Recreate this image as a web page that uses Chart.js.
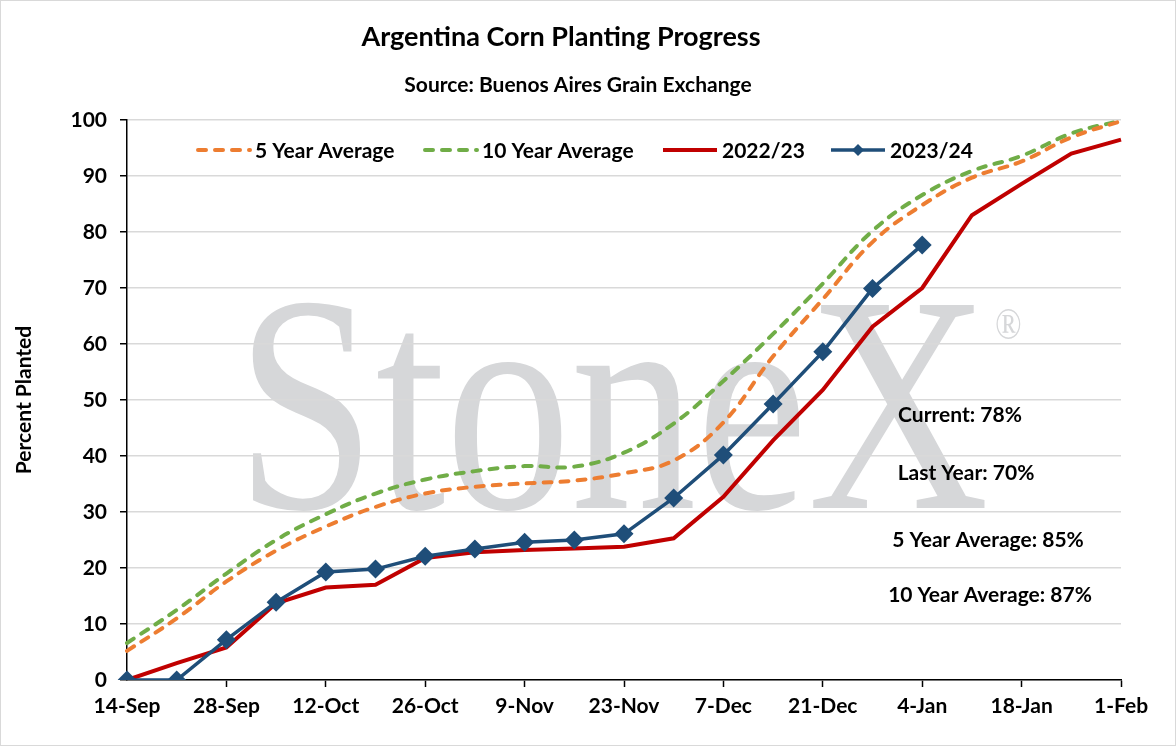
<!DOCTYPE html>
<html>
<head>
<meta charset="utf-8">
<title>Argentina Corn Planting Progress</title>
<script src="https://cdn.jsdelivr.net/npm/chart.js@4.4.0/dist/chart.umd.min.js"></script>
<style>
  html, body { margin: 0; padding: 0; background: #fff; }
  #wrap { width: 1176px; height: 746px; position: relative; }
  canvas { display: block; }
</style>
</head>
<body>
<div id="wrap"><canvas id="chart" width="1176" height="746"></canvas></div>
<script>
// weekly dates on the x axis
const weeks = ['14-Sep', '21-Sep', '28-Sep', '5-Oct', '12-Oct', '19-Oct', '26-Oct', '2-Nov', '9-Nov',
  '16-Nov', '23-Nov', '30-Nov', '7-Dec', '14-Dec', '21-Dec', '28-Dec', '4-Jan', '11-Jan', '18-Jan',
  '25-Jan', '1-Feb'];
// only every second week gets a label + tick
const tickLabels = ['14-Sep', '28-Sep', '12-Oct', '26-Oct', '9-Nov', '23-Nov', '7-Dec', '21-Dec',
  '4-Jan', '18-Jan', '1-Feb'];

const avg5 = [5.2, 11.0, 17.6, 23.1, 27.4, 30.9, 33.3, 34.5, 35.1, 35.6, 36.9, 39.2, 46.0, 57.8,
  68.0, 78.2, 84.8, 89.7, 92.6, 96.9, 99.8];
const avg10 = [6.6, 12.5, 19.0, 25.0, 29.6, 33.3, 35.8, 37.3, 38.2, 38.1, 40.6, 45.8, 53.4, 61.8,
  70.8, 80.2, 86.6, 90.9, 93.6, 97.6, 99.9];
const y2022 = [0, 3.0, 5.8, 13.7, 16.5, 17.0, 21.8, 22.8, 23.2, 23.5, 23.8, 25.3, 32.7, 42.8,
  51.8, 63.1, 70.0, 83.0, 88.6, 94.0, 96.5];
const y2023 = [0, 0, 7.2, 13.9, 19.3, 19.8, 22.1, 23.4, 24.6, 25.0, 26.1, 32.5, 40.2, 49.3,
  58.6, 69.9, 77.7];

const yTicks = { min: 0, max: 100, step: 10 };
const annotations = ['Current: 78%', 'Last Year: 70%', '5 Year Average: 85%', '10 Year Average: 87%'];

const FONT = 'Lato, "Noto Sans", sans-serif';
const TXT = 21;

// background, border and the StoneX watermark behind the grid
const backdrop = {
  id: 'backdrop',
  beforeDraw(chart) {
    const ctx = chart.ctx;
    ctx.save();
    ctx.fillStyle = '#fff';
    ctx.fillRect(0, 0, chart.width, chart.height);
    ctx.fillStyle = '#d6d7d9';
    ctx.font = '310px "Liberation Serif", serif';
    const w = ctx.measureText('StoneX').width;
    const sx = 753 / w;
    ctx.translate(236, 508);
    ctx.scale(sx, 1);
    ctx.textBaseline = 'alphabetic';
    ctx.fillText('StoneX', 0, 0);
    ctx.restore();
    ctx.save();
    ctx.fillStyle = '#d6d7d9';
    ctx.font = '44px "Liberation Serif", serif';
    ctx.translate(995, 339);
    ctx.scale(0.8, 1);
    ctx.fillText('\u00AE', 0, 0);
    ctx.restore();
  }
};

// titles, legend inside the plot, text notes, outer border
const overlay = {
  id: 'overlay',
  afterDraw(chart) {
    const ctx = chart.ctx;
    ctx.save();
    ctx.fillStyle = '#000';
    ctx.textAlign = 'center';
    ctx.textBaseline = 'middle';
    ctx.font = 'bold 27px ' + FONT;
    ctx.fillText('Argentina Corn Planting Progress', 561, 37);
    ctx.font = 'bold 21px ' + FONT;
    ctx.fillText('Source: Buenos Aires Grain Exchange', 578, 85);

    // legend
    const legendX = [196, 423, 663, 831];
    const ly = 150;
    chart.data.datasets.forEach((ds, k) => {
      const x0 = legendX[k];
      const len = 54;
      ctx.save();
      ctx.strokeStyle = ds.borderColor;
      ctx.lineWidth = ds.borderWidth;
      ctx.lineCap = ds.borderDash ? 'round' : 'butt';
      ctx.setLineDash(ds.borderDash || []);
      ctx.beginPath();
      ctx.moveTo(x0 + (ds.borderDash ? 2 : 0), ly);
      ctx.lineTo(x0 + len, ly);
      ctx.stroke();
      if (ds.pointRadius) {
        ctx.setLineDash([]);
        ctx.fillStyle = ds.borderColor;
        ctx.beginPath();
        const cx = x0 + len / 2, r = 6;
        ctx.moveTo(cx, ly - r); ctx.lineTo(cx + r, ly); ctx.lineTo(cx, ly + r); ctx.lineTo(cx - r, ly);
        ctx.closePath();
        ctx.fill();
      }
      ctx.restore();
      ctx.textAlign = 'left';
      ctx.font = 'bold ' + TXT + 'px ' + FONT;
      ctx.fillText(ds.label, x0 + len + 5, ly + 1);
    });

    // notes
    const noteX = [960, 966, 988, 990];
    const noteY = [415, 473, 540, 595];
    ctx.textAlign = 'center';
    ctx.font = 'bold ' + TXT + 'px ' + FONT;
    annotations.forEach((t, i) => ctx.fillText(t, noteX[i], noteY[i]));

    ctx.strokeStyle = '#d9d9d9';
    ctx.lineWidth = 1;
    ctx.strokeRect(0.5, 0.5, chart.width - 1, chart.height - 1);
    ctx.restore();
  }
};

new Chart(document.getElementById('chart'), {
  type: 'line',
  data: {
    labels: weeks,
    datasets: [
      { label: '5 Year Average', data: avg5, borderColor: '#ED7D31', borderWidth: 4,
        borderDash: [8, 9], borderCapStyle: 'round', tension: 0.4, pointRadius: 0, order: 2 },
      { label: '10 Year Average', data: avg10, borderColor: '#70AD47', borderWidth: 4,
        borderDash: [8, 9], borderCapStyle: 'round', tension: 0.4, pointRadius: 0, order: 3 },
      { label: '2022/23', data: y2022, borderColor: '#C00000', borderWidth: 4,
        tension: 0, pointRadius: 0, order: 1 },
      { label: '2023/24', data: y2023, borderColor: '#1F4E79', backgroundColor: '#1F4E79',
        borderWidth: 3.5, tension: 0, pointStyle: 'rectRot', pointRadius: 9.5,
        pointBorderWidth: 0, order: 0 }
    ]
  },
  options: {
    responsive: false,
    animation: false,
    devicePixelRatio: 1,
    layout: { padding: { top: 120, right: 55, bottom: 0, left: 0 } },
    plugins: { legend: { display: false }, tooltip: { enabled: false } },
    scales: {
      x: {
        type: 'category',
        offset: false,
        afterFit: s => { s.height = 66; },
        grid: {
          drawOnChartArea: false, tickLength: 7, tickWidth: 1.5,
          tickColor: c => tickLabels.includes(weeks[c.index]) && c.index > 0 ? '#000' : 'rgba(0,0,0,0)'
        },
        border: { color: '#000', width: 1.5 },
        ticks: {
          autoSkip: false, maxRotation: 0, padding: 7, color: '#000',
          font: { family: FONT, size: TXT, weight: 'bold' },
          callback(v, i) {
            const lab = weeks[i];
            return tickLabels.includes(lab) ? lab : '';
          }
        }
      },
      y: {
        min: yTicks.min, max: yTicks.max,
        afterFit: s => { s.width = 127; },
        grid: { color: '#d9d9d9', lineWidth: 1.5, tickColor: '#000', tickLength: 7, tickWidth: 1.5 },
        border: { color: '#000', width: 1.5 },
        ticks: { stepSize: yTicks.step, padding: 13, color: '#000',
          font: { family: FONT, size: TXT, weight: 'bold' } },
        title: { display: true, text: 'Percent Planted', color: '#000',
          font: { family: FONT, size: TXT, weight: 'bold' }, padding: { top: 12, bottom: 0 } }
      }
    }
  },
  plugins: [backdrop, overlay]
});
</script>
</body>
</html>
